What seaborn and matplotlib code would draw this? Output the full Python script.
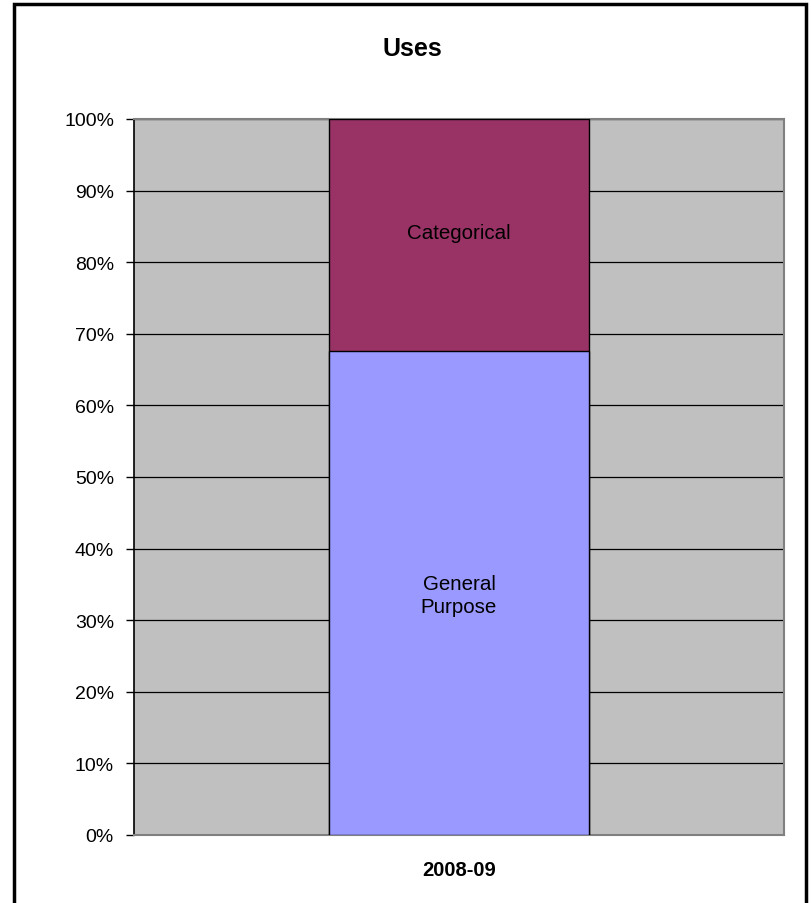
import matplotlib
matplotlib.use("Agg")
import matplotlib.pyplot as plt
import seaborn as sns
import pandas as pd
from matplotlib.patches import Rectangle

categories = ["2008-09"]
general_purpose = [67.6]
categorical = [32.4]
series_names = ["General Purpose", "Categorical"]
y_ticks = [0, 10, 20, 30, 40, 50, 60, 70, 80, 90, 100]
title = "Uses"

sns.set_theme(style="white")
plt.rcParams['font.family'] = ['Liberation Sans', 'DejaVu Sans']
plt.rcParams['text.color'] = 'black'
plt.rcParams['xtick.color'] = 'black'
plt.rcParams['ytick.color'] = 'black'

df = pd.DataFrame({"period": categories,
                   "gp": general_purpose,
                   "cat": categorical})
df["total"] = df["gp"] + df["cat"]

fig = plt.figure(figsize=(8.11, 9.04), dpi=100)
fig.patches.append(Rectangle((14/811, -0.1), (806-14)/811, (904-5)/904 + 0.1,
                             transform=fig.transFigure, fill=False,
                             edgecolor="black", linewidth=2.5, zorder=0))
ax = fig.add_axes([134/811, (904-836)/904, (784-134)/811, (836-120)/904])
ax.set_facecolor("#C0C0C0")
ax.set_axisbelow(True)

sns.barplot(data=df, x="period", y="total", color="#993366", saturation=1,
            width=0.4, edgecolor="black", linewidth=1, ax=ax, zorder=3)
sns.barplot(data=df, x="period", y="gp", color="#9999FF", saturation=1,
            width=0.4, edgecolor="black", linewidth=1, ax=ax, zorder=3)

ax.set_xlim(-0.5, 0.5)
ax.set_ylim(0, 100)
ax.set_yticks(y_ticks)
ax.set_yticklabels([f"{t}%" for t in y_ticks], fontsize=14)
ax.yaxis.grid(True, color="black", linewidth=0.9)
ax.tick_params(axis="y", left=True, length=6, width=1, color="black", pad=8.4,
               labelcolor="black")
ax.tick_params(axis="x", bottom=False, pad=12, labelcolor="black")
for lab in ax.get_xticklabels():
    lab.set_fontweight("bold")
    lab.set_fontsize(14.5)
ax.set_xlabel("")
ax.set_ylabel("")

ax.spines["left"].set_color("black")
ax.spines["left"].set_linewidth(1.2)
for s in ["top", "right", "bottom"]:
    ax.spines[s].set_color("#808080")
    ax.spines[s].set_linewidth(1.5)

for i, (gp, cat) in enumerate(zip(general_purpose, categorical)):
    ax.text(i, gp + cat / 2 + 0.3, "Categorical", ha="center", va="center",
            fontsize=14.8, color="black")
    ax.text(i, gp / 2 - 0.3, "General\nPurpose", ha="center", va="center",
            fontsize=14.8, color="black", linespacing=1.3)

fig.text(412 / 811, 1 - 49.5 / 904, title, ha="center", va="center",
         fontsize=18, fontweight="bold", color="black")

fig.savefig("out.png", dpi=100)
